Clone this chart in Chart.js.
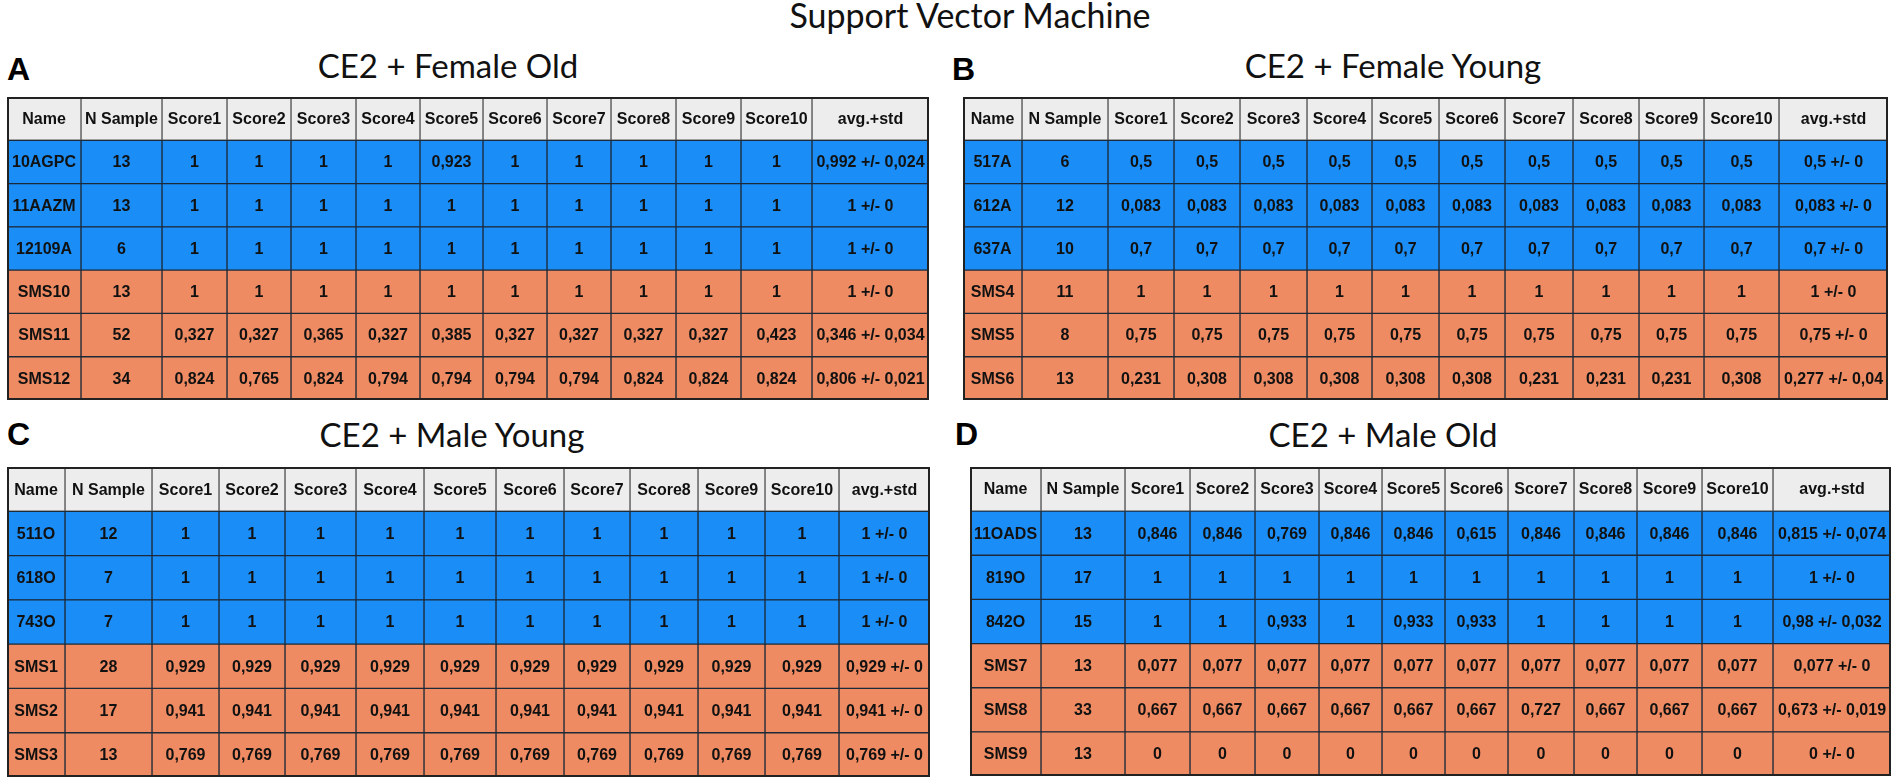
<!DOCTYPE html>
<html>
<head>
<meta charset="utf-8">
<title>Support Vector Machine</title>
<script src="https://cdn.jsdelivr.net/npm/chart.js@4.4.0/dist/chart.umd.min.js"></script>
<style>
  body { margin: 0; background: #fff; width: 1899px; height: 782px; position: relative; overflow: hidden; }
  .title { position: absolute; font-family: Lato, "Open Sans", sans-serif; color: #111; text-align: center; line-height: 1; white-space: nowrap; }
  .main { font-size: 34px; left: 770px; width: 400px; top: -2px; }
  .sub { font-size: 33px; width: 500px; }
  .letter { position: absolute; font-family: Arial, "Liberation Sans", sans-serif; font-weight: bold; font-size: 32px; line-height: 1; color: #000; }
  .panel { position: absolute; }
</style>
</head>
<body>
<div class="title main">Support Vector Machine</div>

<div class="letter" style="left:7px; top:53px;">A</div>
<div class="title sub" style="left:198px; top:49px;">CE2 + Female Old</div>
<div class="panel" style="left:7px; top:97px; width:922px; height:303px;"><canvas id="chartA"></canvas></div>

<div class="letter" style="left:952px; top:53px;">B</div>
<div class="title sub" style="left:1143px; top:49px;">CE2 + Female Young</div>
<div class="panel" style="left:963px; top:97px; width:925px; height:303px;"><canvas id="chartB"></canvas></div>

<div class="letter" style="left:7px; top:418px;">C</div>
<div class="title sub" style="left:202px; top:418px;">CE2 + Male Young</div>
<div class="panel" style="left:7px; top:467px; width:923px; height:310px;"><canvas id="chartC"></canvas></div>

<div class="letter" style="left:955px; top:418px;">D</div>
<div class="title sub" style="left:1133px; top:418px;">CE2 + Male Old</div>
<div class="panel" style="left:970px; top:467px; width:921px; height:309px;"><canvas id="chartD"></canvas></div>

<script>
// column headers shared by all four tables
const headers = ["Name", "N Sample", "Score1", "Score2", "Score3", "Score4", "Score5",
  "Score6", "Score7", "Score8", "Score9", "Score10", "avg.+std"];

// A - CE2 + Female Old
const namesA = ["10AGPC", "11AAZM", "12109A", "SMS10", "SMS11", "SMS12"];
const samplesA = [13, 13, 6, 13, 52, 34];
const scoresA = [
  [1, 1, 1, 1, 0.923, 1, 1, 1, 1, 1],
  [1, 1, 1, 1, 1, 1, 1, 1, 1, 1],
  [1, 1, 1, 1, 1, 1, 1, 1, 1, 1],
  [1, 1, 1, 1, 1, 1, 1, 1, 1, 1],
  [0.327, 0.327, 0.365, 0.327, 0.385, 0.327, 0.327, 0.327, 0.327, 0.423],
  [0.824, 0.765, 0.824, 0.794, 0.794, 0.794, 0.794, 0.824, 0.824, 0.824]
];
const avgA = [0.992, 1, 1, 1, 0.346, 0.806];
const stdA = [0.024, 0, 0, 0, 0.034, 0.021];

// B - CE2 + Female Young
const namesB = ["517A", "612A", "637A", "SMS4", "SMS5", "SMS6"];
const samplesB = [6, 12, 10, 11, 8, 13];
const scoresB = [
  [0.5, 0.5, 0.5, 0.5, 0.5, 0.5, 0.5, 0.5, 0.5, 0.5],
  [0.083, 0.083, 0.083, 0.083, 0.083, 0.083, 0.083, 0.083, 0.083, 0.083],
  [0.7, 0.7, 0.7, 0.7, 0.7, 0.7, 0.7, 0.7, 0.7, 0.7],
  [1, 1, 1, 1, 1, 1, 1, 1, 1, 1],
  [0.75, 0.75, 0.75, 0.75, 0.75, 0.75, 0.75, 0.75, 0.75, 0.75],
  [0.231, 0.308, 0.308, 0.308, 0.308, 0.308, 0.231, 0.231, 0.231, 0.308]
];
const avgB = [0.5, 0.083, 0.7, 1, 0.75, 0.277];
const stdB = [0, 0, 0, 0, 0, 0.04];

// C - CE2 + Male Young
const namesC = ["511O", "618O", "743O", "SMS1", "SMS2", "SMS3"];
const samplesC = [12, 7, 7, 28, 17, 13];
const scoresC = [
  [1, 1, 1, 1, 1, 1, 1, 1, 1, 1],
  [1, 1, 1, 1, 1, 1, 1, 1, 1, 1],
  [1, 1, 1, 1, 1, 1, 1, 1, 1, 1],
  [0.929, 0.929, 0.929, 0.929, 0.929, 0.929, 0.929, 0.929, 0.929, 0.929],
  [0.941, 0.941, 0.941, 0.941, 0.941, 0.941, 0.941, 0.941, 0.941, 0.941],
  [0.769, 0.769, 0.769, 0.769, 0.769, 0.769, 0.769, 0.769, 0.769, 0.769]
];
const avgC = [1, 1, 1, 0.929, 0.941, 0.769];
const stdC = [0, 0, 0, 0, 0, 0];

// D - CE2 + Male Old
const namesD = ["11OADS", "819O", "842O", "SMS7", "SMS8", "SMS9"];
const samplesD = [13, 17, 15, 13, 33, 13];
const scoresD = [
  [0.846, 0.846, 0.769, 0.846, 0.846, 0.615, 0.846, 0.846, 0.846, 0.846],
  [1, 1, 1, 1, 1, 1, 1, 1, 1, 1],
  [1, 1, 0.933, 1, 0.933, 0.933, 1, 1, 1, 1],
  [0.077, 0.077, 0.077, 0.077, 0.077, 0.077, 0.077, 0.077, 0.077, 0.077],
  [0.667, 0.667, 0.667, 0.667, 0.667, 0.667, 0.727, 0.667, 0.667, 0.667],
  [0, 0, 0, 0, 0, 0, 0, 0, 0, 0]
];
const avgD = [0.815, 1, 0.98, 0.077, 0.673, 0];
const stdD = [0.074, 0, 0.032, 0, 0.019, 0];

// first three rows are the blue group, last three the orange one
const groupOf = ["header", "blue", "blue", "blue", "orange", "orange", "orange"];

// layout: column widths in px for each table
const widthsA = [74, 81, 65, 64, 65, 64, 63, 64, 64, 65, 65, 71, 117];
const widthsB = [59, 86, 66, 66, 67, 65, 67, 66, 68, 66, 65, 75, 109];
const widthsC = [58, 87, 67, 66, 71, 68, 72, 68, 66, 68, 67, 74, 91];
const widthsD = [71, 84, 65, 65, 64, 63, 63, 63, 66, 63, 65, 71, 118];

const fills = { header: "#ededed", blue: "#1a8df6", orange: "#ee8b62" };

function fmt(v) {
  return String(v).replace(".", ",");
}

function buildRows(names, samples, scores, avg, std) {
  const rows = [headers];
  names.forEach((name, i) => {
    rows.push([name, String(samples[i])]
      .concat(scores[i].map(fmt))
      .concat([fmt(avg[i]) + " +/- " + fmt(std[i])]));
  });
  return rows;
}

const cellText = {
  id: "cellText",
  afterDatasetsDraw(chart) {
    const ctx = chart.ctx;
    ctx.save();
    ctx.font = "bold 16px Arial, 'Liberation Sans', sans-serif";
    ctx.fillStyle = "#111";
    ctx.textAlign = "center";
    ctx.textBaseline = "middle";
    chart.data.datasets.forEach((ds, i) => {
      chart.getDatasetMeta(i).data.forEach((bar, j) => {
        const p = bar.getProps(["x", "y", "base"], true);
        ctx.fillText(ds.texts[j], (p.x + p.base) / 2, p.y + 1);
      });
    });
    // outer frame
    const a = chart.chartArea;
    ctx.strokeStyle = "#222";
    ctx.lineWidth = 2;
    ctx.strokeRect(a.left + 1, a.top + 1, a.right - a.left - 2, a.bottom - a.top - 2);
    ctx.restore();
  }
};

function drawTable(id, names, samples, scores, avg, std, widths) {
  const rows = buildRows(names, samples, scores, avg, std);
  const total = widths.reduce((s, w) => s + w, 0);
  const labels = ["header"].concat(names);
  const datasets = headers.map((h, c) => ({
    label: h,
    data: labels.map(() => widths[c]),
    texts: rows.map(r => r[c]),
    backgroundColor: groupOf.map(g => fills[g]),
    borderColor: groupOf.map(g => g === "header" ? "#555" : "#1d2a3a"),
    borderWidth: 1,
    borderSkipped: false,
    barPercentage: 1,
    categoryPercentage: 1
  }));

  new Chart(document.getElementById(id), {
    type: "bar",
    data: { labels: labels, datasets: datasets },
    options: {
      indexAxis: "y",
      responsive: true,
      maintainAspectRatio: false,
      animation: false,
      layout: { padding: 0 },
      plugins: { legend: { display: false }, tooltip: { enabled: false } },
      scales: {
        x: { stacked: true, min: 0, max: total, display: false },
        y: { stacked: true, display: false }
      }
    },
    plugins: [cellText]
  });
}

drawTable("chartA", namesA, samplesA, scoresA, avgA, stdA, widthsA);
drawTable("chartB", namesB, samplesB, scoresB, avgB, stdB, widthsB);
drawTable("chartC", namesC, samplesC, scoresC, avgC, stdC, widthsC);
drawTable("chartD", namesD, samplesD, scoresD, avgD, stdD, widthsD);
</script>
</body>
</html>
